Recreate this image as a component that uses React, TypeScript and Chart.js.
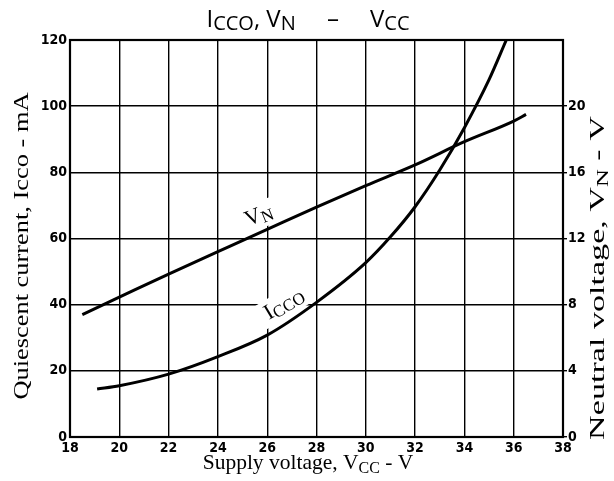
import React, { useEffect, useRef } from "react";
import { Chart, registerables } from "chart.js";
Chart.register(...registerables);

// Supply voltage axis (V)
const supplyTicks = [18, 20, 22, 24, 26, 28, 30, 32, 34, 36, 38];
// Neutral voltage VN (right axis, V) vs supply voltage
const vnSupply = [18.5, 20, 22, 24, 26, 28, 30, 32, 34, 36, 36.5];
const vnValues = [7.4, 8.45, 9.85, 11.2, 12.55, 13.9, 15.2, 16.45, 17.85, 19.1, 19.5];
// Quiescent current ICCO (left axis, mA) vs supply voltage
const iccoSupply = [19.1, 20, 22, 24, 26, 28, 30, 31, 32, 33, 34, 35, 35.7];
const iccoValues = [14.5, 15.5, 19, 24.3, 30.8, 40.7, 52.7, 60.5, 69.6, 80.7, 93.5, 108, 120];
// Tick labels
const leftTicks = [0, 20, 40, 60, 80, 100, 120];
const rightTicks = [0, 4, 8, 12, 16, 20];

type Part = { t: string; sub?: boolean };

function richWidth(ctx: CanvasRenderingContext2D, parts: Part[], fMain: string, fSub: string) {
  let w = 0;
  for (const p of parts) {
    ctx.font = p.sub ? fSub : fMain;
    w += ctx.measureText(p.t).width;
  }
  return w;
}

function drawRich(
  ctx: CanvasRenderingContext2D,
  parts: Part[],
  x: number,
  y: number,
  fMain: string,
  fSub: string,
  subShift: number
) {
  const w = richWidth(ctx, parts, fMain, fSub);
  let cx = x - w / 2;
  ctx.textAlign = "left";
  ctx.textBaseline = "alphabetic";
  for (const p of parts) {
    ctx.font = p.sub ? fSub : fMain;
    ctx.fillText(p.t, cx, y + (p.sub ? subShift : 0));
    cx += ctx.measureText(p.t).width;
  }
  return w;
}

const SERIF = "'Liberation Serif', 'Times New Roman', serif";
const SANS = "'Open Sans', 'DejaVu Sans', sans-serif";

const decorPlugin = {
  id: "decor",
  beforeDatasetsDraw(chart: any) {
    const ctx: CanvasRenderingContext2D = chart.ctx;
    const labels = [
      { parts: [{ t: "V" }, { t: "N", sub: true }] as Part[], x: 261, y: 221, rot: -22 },
      { parts: [{ t: "I" }, { t: "CCO", sub: true }] as Part[], x: 287, y: 309, rot: -31 },
    ];
    for (const l of labels) {
      ctx.save();
      ctx.translate(l.x, l.y);
      ctx.rotate((l.rot * Math.PI) / 180);
      const fM = `22px ${SERIF}`;
      const fS = `17px ${SERIF}`;
      const w = richWidth(ctx, l.parts, fM, fS);
      ctx.fillStyle = "#fff";
      ctx.fillRect(-w / 2 - 7, -19, w + 14, 26);
      ctx.fillStyle = "#000";
      drawRich(ctx, l.parts, 0, 0, fM, fS, 3);
      ctx.restore();
    }
  },
  afterDraw(chart: any) {
    const ctx: CanvasRenderingContext2D = chart.ctx;
    const a = chart.chartArea;
    ctx.save();
    ctx.strokeStyle = "#000";
    ctx.lineWidth = 2.2;
    ctx.strokeRect(a.left, a.top, a.right - a.left, a.bottom - a.top);
    ctx.fillStyle = "#000";

    drawRich(
      ctx,
      [
        { t: "I" },
        { t: "CCO", sub: true },
        { t: ", V" },
        { t: "N", sub: true },
        { t: "     \u2013     V" },
        { t: "CC", sub: true },
      ],
      308,
      27,
      `24px ${SANS}`,
      `20px ${SANS}`,
      3
    );

    drawRich(
      ctx,
      [{ t: "Supply voltage, V" }, { t: "CC", sub: true }, { t: " - V" }],
      308,
      469,
      `21.5px ${SERIF}`,
      `16px ${SERIF}`,
      4
    );

    ctx.save();
    ctx.translate(28, 246);
    ctx.rotate(-Math.PI / 2);
    ctx.scale(1.2, 1);
    drawRich(ctx, [{ t: "Quiescent current, Icco - mA" }], 0, 0, `22px ${SERIF}`, `16px ${SERIF}`, 4);
    ctx.restore();

    ctx.save();
    ctx.translate(604, 278);
    ctx.rotate(-Math.PI / 2);
    ctx.scale(1.55, 1);
    drawRich(
      ctx,
      [{ t: "Neutral voltage, V" }, { t: "N", sub: true }, { t: " - V" }],
      0,
      0,
      `22px ${SERIF}`,
      `16px ${SERIF}`,
      4
    );
    ctx.restore();
    ctx.restore();
  },
};

export default function App() {
  const ref = useRef<HTMLCanvasElement>(null);
  useEffect(() => {
    const tickFont = { family: "'DejaVu Sans Condensed', 'DejaVu Sans', sans-serif", weight: "bold" as const, size: 14 };
    const chart = new Chart(ref.current!, {
      type: "scatter",
      data: {
        datasets: [
          {
            label: "VN",
            data: vnSupply.map((x, i) => ({ x, y: vnValues[i] })),
            yAxisID: "y2",
            showLine: true,
            borderColor: "#000",
            borderWidth: 3,
            pointRadius: 0,
            cubicInterpolationMode: "monotone",
          },
          {
            label: "ICCO",
            data: iccoSupply.map((x, i) => ({ x, y: iccoValues[i] })),
            yAxisID: "y",
            showLine: true,
            borderColor: "#000",
            borderWidth: 3,
            pointRadius: 0,
            cubicInterpolationMode: "monotone",
          },
        ],
      },
      options: {
        responsive: false,
        animation: false,
        devicePixelRatio: 1,
        layout: { padding: { top: 40, left: 0, right: 0, bottom: 0 } },
        plugins: { legend: { display: false }, tooltip: { enabled: false }, title: { display: false } },
        scales: {
          x: {
            type: "linear",
            min: supplyTicks[0],
            max: supplyTicks[supplyTicks.length - 1],
            afterBuildTicks: (s: any) => {
              s.ticks = supplyTicks.map((v) => ({ value: v }));
            },
            ticks: { color: "#000", font: tickFont, padding: 3, maxRotation: 0 },
            grid: { color: "#000", lineWidth: 1.4, drawTicks: false },
            border: { display: false },
            afterFit: (s: any) => {
              s.height = 44;
            },
          },
          y: {
            type: "linear",
            position: "left",
            min: 0,
            max: 120,
            afterBuildTicks: (s: any) => {
              s.ticks = leftTicks.map((v) => ({ value: v }));
            },
            ticks: { color: "#000", font: tickFont, padding: 3 },
            grid: { color: "#000", lineWidth: 1.4, drawTicks: false },
            border: { display: false },
            afterFit: (s: any) => {
              s.width = 70;
            },
          },
          y2: {
            type: "linear",
            position: "right",
            min: 0,
            max: 24,
            afterBuildTicks: (s: any) => {
              s.ticks = rightTicks.map((v) => ({ value: v }));
            },
            ticks: { color: "#000", font: tickFont, padding: 1 },
            grid: { color: "#000", lineWidth: 1.4, drawOnChartArea: false, drawTicks: true, tickLength: 4 },
            border: { display: false },
            afterFit: (s: any) => {
              s.width = 51;
            },
          },
        },
      },
      plugins: [decorPlugin],
    } as any);
    return () => chart.destroy();
  }, []);
  return (
    <div style={{ position: "absolute", left: 0, top: 0, width: 614, height: 481, background: "#fff" }}>
      <canvas ref={ref} width={614} height={481} style={{ display: "block", width: 614, height: 481 }} />
    </div>
  );
}
